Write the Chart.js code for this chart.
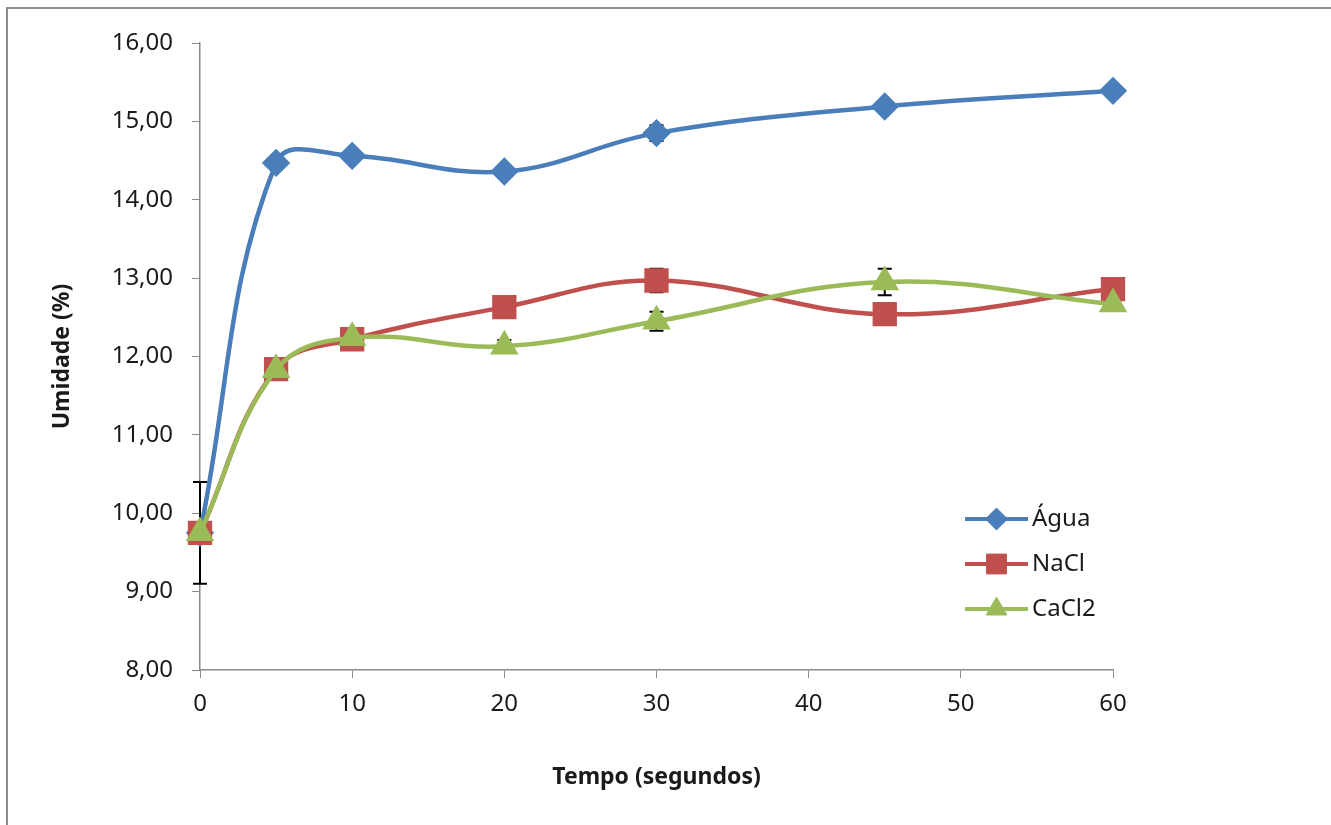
<!DOCTYPE html>
<html>
<head>
<meta charset="utf-8">
<script src="https://cdn.jsdelivr.net/npm/chart.js@4"></script>
<style>
  html, body { margin: 0; padding: 0; background: #fff; overflow: hidden; }
  #frame { position: absolute; left: 6px; top: 7px; width: 1340px; height: 830px; border: 2px solid #8c8c8c; box-sizing: border-box; }
  #wrap { position: absolute; left: 0; top: 0; width: 1331px; height: 825px; }
</style>
</head>
<body>
<div id="frame"></div>
<div id="wrap"><canvas id="umidadeChart"></canvas></div>
<script>
const tempo = [0, 5, 10, 20, 30, 45, 60];
const agua = [9.75, 14.47, 14.56, 14.36, 14.85, 15.19, 15.39];
const nacl = [9.75, 11.84, 12.22, 12.63, 12.97, 12.54, 12.86];
const cacl2 = [9.75, 11.83, 12.24, 12.13, 12.45, 12.95, 12.67];
const erroAgua = [0, 0, 0, 0, 0.1, 0, 0];
const erroNacl = [0.65, 0, 0, 0, 0.15, 0, 0];
const erroCacl2 = [0, 0, 0, 0.08, 0.12, 0.17, 0];
const nomes = ['Água', 'NaCl', 'CaCl2'];

const fonte = '"Noto Sans", sans-serif';
const eixoCor = '#8a8a8a';

// error bars, drawn under the markers
const errorBars = {
  id: 'errorBars',
  beforeDatasetsDraw(chart) {
    const ctx = chart.ctx;
    const xs = chart.scales.x, ys = chart.scales.y;
    ctx.save();
    ctx.strokeStyle = '#000';
    ctx.lineWidth = 2;
    chart.data.datasets.forEach(ds => {
      ds.erro.forEach((e, i) => {
        if (!e) return;
        const px = xs.getPixelForValue(ds.data[i].x);
        const top = ys.getPixelForValue(ds.data[i].y + e);
        const bot = ys.getPixelForValue(ds.data[i].y - e);
        ctx.beginPath();
        ctx.moveTo(px, top); ctx.lineTo(px, bot);
        ctx.moveTo(px - 7, top); ctx.lineTo(px + 7, top);
        ctx.moveTo(px - 7, bot); ctx.lineTo(px + 7, bot);
        ctx.stroke();
      });
    });
    ctx.restore();
  }
};

// legend inside the plot, line + marker like the original
const legendaInterna = {
  id: 'legendaInterna',
  afterDraw(chart) {
    const ctx = chart.ctx;
    const area = chart.chartArea;
    const x0 = area.right - 148, x1 = area.right - 85;
    ctx.save();
    chart.data.datasets.forEach((ds, i) => {
      const y = area.bottom - 151 + i * 45;
      ctx.strokeStyle = ds.borderColor;
      ctx.lineWidth = 4;
      ctx.beginPath(); ctx.moveTo(x0, y); ctx.lineTo(x1, y); ctx.stroke();
      ctx.fillStyle = ds.pointBackgroundColor;
      ctx.strokeStyle = ds.pointBackgroundColor;
      ctx.lineWidth = 1;
      Chart.helpers.drawPoint(ctx, { pointStyle: ds.pointStyle, radius: ds.pointRadius, rotation: 0, borderWidth: 1 }, (x0 + x1) / 2, y);
      ctx.fillStyle = '#1a1a1a';
      ctx.font = '24px ' + fonte;
      ctx.textAlign = 'left';
      ctx.textBaseline = 'middle';
      ctx.fillText(ds.label, x1 + 4, y);
    });
    ctx.restore();
  }
};

const serie = (label, valores, erro, cor, estilo, raio, ordem) => ({
  label,
  data: valores.map((v, i) => ({ x: tempo[i], y: v })),
  erro,
  order: ordem,
  clip: false,
  borderColor: cor,
  backgroundColor: cor,
  pointBackgroundColor: cor,
  pointBorderColor: cor,
  pointStyle: estilo,
  pointRadius: raio,
  pointHoverRadius: raio,
  borderWidth: 4.5,
  tension: 0.4
});

new Chart(document.getElementById('umidadeChart'), {
  type: 'line',
  data: {
    datasets: [
      serie(nomes[0], agua, erroAgua, '#4a7ebb', 'rectRot', 11, 2),
      serie(nomes[1], nacl, erroNacl, '#c0504d', 'rect', 14, 1),
      serie(nomes[2], cacl2, erroCacl2, '#9bbb59', 'triangle', 12, 0)
    ]
  },
  options: {
    responsive: true,
    maintainAspectRatio: false,
    animation: false,
    layout: { padding: { left: 45, top: 43, right: 218, bottom: 30 } },
    plugins: { legend: { display: false }, tooltip: { enabled: false } },
    scales: {
      x: {
        type: 'linear',
        min: 0,
        max: 60,
        afterFit: s => { s.height = 125; },
        grid: { drawOnChartArea: false, color: eixoCor, tickLength: 8 },
        border: { color: eixoCor, width: 1.5 },
        ticks: { stepSize: 10, color: '#1a1a1a', padding: 12, font: { family: fonte, size: 24 } },
        title: { display: true, text: 'Tempo (segundos)', color: '#1a1a1a', font: { family: fonte, size: 23, weight: 'bold' } }
      },
      y: {
        min: 8,
        max: 16,
        afterFit: s => { s.width = 155; },
        grid: { drawOnChartArea: false, color: eixoCor, tickLength: 8 },
        border: { color: eixoCor, width: 1.5 },
        ticks: {
          stepSize: 1,
          color: '#1a1a1a',
          padding: 19,
          font: { family: fonte, size: 24 },
          callback: v => v.toFixed(2).replace('.', ',')
        },
        title: { display: true, text: 'Umidade (%)', color: '#1a1a1a', font: { family: fonte, size: 23, weight: 'bold' } }
      }
    }
  },
  plugins: [errorBars, legendaInterna]
});
</script>
</body>
</html>
